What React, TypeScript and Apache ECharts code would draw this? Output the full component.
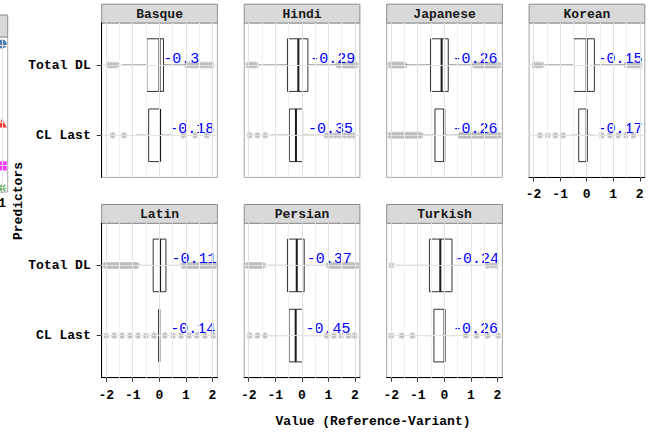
import React, { useEffect, useRef } from "react";
import * as echarts from "echarts";

// ---------------- data ----------------
const languages = ["Basque", "Hindi", "Japanese", "Korean", "Latin", "Persian", "Turkish"];
const predictors = ["Total DL", "CL Last"];
const xTicks = [-2, -1, 0, 1, 2];
const xMinorTicks = [-1.5, -0.5, 0.5, 1.5];

// [lower whisker, Q1, median, Q3, upper whisker]
const totalDLStats = [
  [-1.4, -0.47, 0.01, 0.16, 1.0],
  [-1.62, -0.54, -0.13, 0.23, 1.33],
  [-1.45, -0.52, -0.1, 0.15, 1.1],
  [-1.57, -0.49, 0.0, 0.29, 1.45],
  [-0.83, -0.23, 0.03, 0.25, 0.88],
  [-1.41, -0.54, -0.19, 0.09, 0.98],
  [-1.83, -0.56, -0.15, 0.29, 1.6],
];
const clLastStats = [
  [-0.88, -0.4, 0.03, 0.03, 0.47],
  [-1.16, -0.47, -0.22, 0.03, 0.73],
  [-0.86, -0.35, 0.0, 0.0, 0.53],
  [-0.59, -0.3, 0.0, 0.0, 0.28],
  [0, 0, 0, 0, 0],
  [-1.2, -0.48, -0.23, 0.03, 0.73],
  [-0.79, -0.39, 0.01, 0.01, 0.42],
];

// correlation labels and where they start (value units)
const totalDLLabels = ["-0.3", "-0.29", "-0.26", "-0.15", "-0.11", "-0.37", "-0.24"];
const clLastLabels = ["-0.18", "-0.35", "-0.26", "-0.17", "-0.14", "-0.45", "-0.26"];
const totalDLLabelX = [0.15, 0.32, 0.31, 0.41, 0.46, 0.19, 0.37];
const clLastLabelX = [0.38, 0.23, 0.31, 0.41, 0.41, 0.14, 0.33];

// outliers
const totalDLOutliers = [
  [-1.92, -1.82, -1.72, -1.6, 1.05, 1.14, 1.24, 1.33, 1.43, 1.52, 1.62, 1.71, 1.8, 1.9, 1.96],
  [-2.02, -1.95, -1.88, -1.81, -1.74, 1.38, 1.44, 1.51, 1.58, 1.65, 1.71, 1.78, 1.85, 1.91, 1.97, 2.04],
  [-2.04, -1.98, -1.92, -1.86, -1.8, -1.73, -1.67, -1.61, -1.55, -1.5,
    1.15, 1.21, 1.27, 1.33, 1.39, 1.45, 1.51, 1.57, 1.63, 1.69, 1.75, 1.81, 1.87, 1.93, 1.99, 2.05],
  [-1.97, -1.88, -1.79, -1.7, 1.5, 1.6, 1.7, 1.8, 1.9, 1.99],
  [-2.05, -1.99, -1.93, -1.87, -1.8, -1.74, -1.68, -1.62, -1.56, -1.5, -1.44, -1.38, -1.32, -1.26, -1.2,
    -1.14, -1.08, -1.02, -0.96, -0.9, -0.86,
    0.91, 0.97, 1.03, 1.09, 1.15, 1.21, 1.27, 1.33, 1.39, 1.45, 1.51, 1.57, 1.63, 1.69, 1.75, 1.81,
    1.87, 1.93, 1.99, 2.05, 2.1],
  [-2.05, -1.99, -1.93, -1.87, -1.81, -1.75, -1.69, -1.63, -1.57, -1.51, -1.46,
    1.01, 1.07, 1.13, 1.19, 1.25, 1.31, 1.37, 1.43, 1.49, 1.55, 1.61, 1.67, 1.73, 1.79, 1.85, 1.91,
    1.97, 2.03, 2.08],
  [-1.99, 1.64, 1.8, 1.95],
];
const clLastOutliers = [
  [-1.76, -1.33, 0.91, 1.35, 1.79],
  [-1.96, -1.67, -1.38, 0.93, 1.1, 1.27, 1.44, 1.61, 1.78, 1.95],
  [-2.04, -1.98, -1.92, -1.86, -1.8, -1.74, -1.68, -1.62, -1.56, -1.5, -1.44, -1.38, -1.32, -1.26,
    -1.2, -1.14, -1.08, -1.02, -0.96, -0.9,
    0.58, 0.64, 0.7, 0.76, 0.82, 0.88, 0.94, 1.0, 1.06, 1.12, 1.18, 1.24, 1.3, 1.36, 1.42, 1.48,
    1.54, 1.6, 1.66, 1.72, 1.78, 1.84, 1.9, 1.96, 2.02, 2.06],
  [-1.76, -1.47, -1.18, -0.88, 0.57, 0.88, 1.19, 1.48, 1.76],
  [-2.0, -1.7, -1.4, -1.1, -0.8, -0.5, -0.2, 0.21, 0.52, 0.82, 1.12, 1.42, 1.72, 2.03],
  [-1.96, -1.67, -1.39, 0.94, 1.21, 1.48, 1.76, 1.99],
  [-2.0, -1.6, -1.2, 0.81, 1.22, 1.63, 2.03],
];

// the neighbouring figure cut off at the left edge
const sliverX = [1, 1, 1, 1];
const sliverY = [0.955, 0.445, 0.168, 0.026];
const sliverSymbols = ["circle", "triangle", "rect", "path://M5,0L5,10M0,5L10,5M1.5,1.5L8.5,8.5M8.5,1.5L1.5,8.5"];
const sliverColors = ["#1f5c9e", "#ff0000", "#ff00ff", "#1a8a1a"];

// ---------------- layout / style ----------------
const FONT = '"Liberation Mono", "DejaVu Sans Mono", monospace';
const PANEL_LEFTS = [101.7, 244.2, 386.7, 529.1];
const PANEL_W = 115.7;
const ROW_TOPS = [23, 223.3];
const PANEL_H = 154.4;
const STRIP_H = 18.8;
const X_MIN = -2.17;
const X_MAX = 2.19;
const Y_MIN = 0.4;
const Y_MAX = 2.6;
const BOX_WIDTH = 0.75;
const ASTERISK = "path://M5,0L5,10M0,5L10,5M1.5,1.5L8.5,8.5M8.5,1.5L1.5,8.5";

function panelPos(i: number) {
  const row = i < 4 ? 0 : 1;
  const col = i < 4 ? i : i - 4;
  return { left: PANEL_LEFTS[col], top: ROW_TOPS[row], row, col };
}
const predictorY = (k: number) => predictors.length - k;

export default function App() {
  const ref = useRef<HTMLDivElement>(null);
  useEffect(() => {
    if (!ref.current) return;
    const chart = echarts.init(ref.current, null, { renderer: "svg" });

    const grids: any[] = [];
    const xAxes: any[] = [];
    const yAxes: any[] = [];
    const series: any[] = [];
    const graphics: any[] = [];

    languages.forEach((lang, i) => {
      const { left, top, row, col } = panelPos(i);
      const hasX = row === 1 || i === 3;
      const hasY = col === 0;
      grids.push({
        left, top, width: PANEL_W, height: PANEL_H,
        show: true, backgroundColor: "#ffffff", borderColor: "#a6a6a6", borderWidth: 1,
        containLabel: false, outerBoundsMode: "none",
      });
      xAxes.push({
        type: "value", gridIndex: i, min: X_MIN, max: X_MAX,
        axisLine: { show: hasX, onZero: false, lineStyle: { color: "#000", width: 1 } },
        axisTick: { show: hasX, customValues: xTicks, length: 4, lineStyle: { color: "#333" } },
        axisLabel: {
          show: hasX, customValues: xTicks, margin: 11, color: "#000",
          fontFamily: FONT, fontWeight: "bold", fontSize: 13,
        },
        splitLine: { show: false },
      });
      yAxes.push({
        type: "value", gridIndex: i, min: Y_MIN, max: Y_MAX,
        axisLine: { show: hasY, onZero: false, lineStyle: { color: "#000", width: 1 } },
        axisTick: { show: hasY, customValues: [1, 2], length: 5, lineStyle: { color: "#333" } },
        axisLabel: {
          show: hasY, customValues: [1, 2], margin: 11, color: "#000",
          fontFamily: FONT, fontWeight: "bold", fontSize: 13,
          formatter: (v: number) => predictors[predictors.length - Math.round(v)] || "",
        },
        splitLine: { show: false },
      });

      const outlierData: number[][] = [];
      totalDLOutliers[i].forEach((v) => outlierData.push([v, predictorY(0)]));
      clLastOutliers[i].forEach((v) => outlierData.push([v, predictorY(1)]));

      series.push({
        type: "scatter", xAxisIndex: i, yAxisIndex: i, z: 1, silent: true,
        data: outlierData, symbol: ASTERISK, symbolSize: 7,
        itemStyle: { color: "#bdbdbd", borderColor: "#bdbdbd", borderWidth: 1.2, opacity: 1 },
        markLine: {
          silent: true, symbol: ["none", "none"], label: { show: false }, animation: false,
          emphasis: { disabled: true },
          data: [
            ...xMinorTicks.map((v) => ({ xAxis: v, lineStyle: { color: "#f2f2f2", width: 1, type: "solid" } })),
            ...xTicks.map((v) => ({ xAxis: v, lineStyle: { color: "#e3e3e3", width: 1, type: "solid" } })),
            ...predictors.map((_, k) => ({ yAxis: predictorY(k), lineStyle: { color: "#e3e3e3", width: 1, type: "solid" } })),
          ],
        },
      });

      const labelsText = [totalDLLabels[i], clLastLabels[i]];
      series.push({
        type: "custom", xAxisIndex: i, yAxisIndex: i, z: 3, silent: true,
        data: [
          [predictorY(0), ...totalDLStats[i], totalDLLabelX[i]],
          [predictorY(1), ...clLastStats[i], clLastLabelX[i]],
        ],
        renderItem: (params: any, api: any) => {
          const y = api.value(0);
          const pLo = api.coord([api.value(1), y]);
          const pQ1 = api.coord([api.value(2), y]);
          const pMd = api.coord([api.value(3), y]);
          const pQ3 = api.coord([api.value(4), y]);
          const pHi = api.coord([api.value(5), y]);
          const pLb = api.coord([api.value(6), y]);
          const half = Math.abs(api.size([0, BOX_WIDTH])[1]) / 2;
          const cy = pLo[1];
          return {
            type: "group",
            children: [
              { type: "line", shape: { x1: pLo[0], y1: cy, x2: pQ1[0], y2: cy }, style: { stroke: "#4d4d4d", lineWidth: 1 } },
              { type: "line", shape: { x1: pQ3[0], y1: cy, x2: pHi[0], y2: cy }, style: { stroke: "#4d4d4d", lineWidth: 1 } },
              {
                type: "rect",
                shape: { x: pQ1[0], y: cy - half, width: pQ3[0] - pQ1[0], height: 2 * half },
                style: { fill: "#ffffff", stroke: "#333333", lineWidth: 1 },
              },
              { type: "line", shape: { x1: pMd[0], y1: cy - half, x2: pMd[0], y2: cy + half }, style: { stroke: "#1a1a1a", lineWidth: 2 } },
              {
                type: "text", x: pLb[0], y: cy - 6, z2: 10,
                style: {
                  text: labelsText[params.dataIndex], fill: "#0000ff", fontFamily: FONT, fontSize: 15,
                  align: "left", verticalAlign: "middle",
                },
              },
            ],
          };
        },
      });

      const stripTop = top - STRIP_H;
      graphics.push({
        type: "rect", shape: { x: left, y: stripTop, width: PANEL_W, height: STRIP_H },
        style: { fill: "#d9d9d9", stroke: "#8c8c8c", lineWidth: 1 }, silent: true,
      });
      graphics.push({
        type: "text", x: left + PANEL_W / 2, y: stripTop + STRIP_H / 2 + 0.5,
        style: { text: lang, fill: "#1a1a1a", fontFamily: FONT, fontWeight: "bold", fontSize: 13, align: "center", verticalAlign: "middle" },
        silent: true,
      });
    });

    // sliver of the neighbouring figure at the left edge
    const si = languages.length;
    grids.push({
      left: -60, top: 37, width: 67.7, height: 155, show: true, backgroundColor: "#fff",
      borderColor: "#a6a6a6", borderWidth: 1, containLabel: false, outerBoundsMode: "none",
    });
    xAxes.push({
      type: "value", gridIndex: si, min: 0, max: 1.089,
      axisLine: { show: false }, axisTick: { show: false },
      axisLabel: { show: true, customValues: [1], margin: 5, color: "#000", fontFamily: FONT, fontWeight: "bold", fontSize: 13 },
      splitLine: { show: false },
    });
    yAxes.push({ type: "value", gridIndex: si, min: 0, max: 1, show: false, splitLine: { show: false } });
    series.push({
      type: "scatter", xAxisIndex: si, yAxisIndex: si, silent: true, z: 2, clip: false,
      data: sliverX.map((x, k) => ({
        value: [x, sliverY[k]], symbol: sliverSymbols[k],
        symbolSize: 9,
        itemStyle: k === 3
          ? { color: sliverColors[k], borderColor: sliverColors[k], borderWidth: 1.3 }
          : { color: sliverColors[k] },
      })),
      markLine: {
        silent: true, symbol: ["none", "none"], label: { show: false }, animation: false,
        lineStyle: { color: "#e3e3e3", width: 1, type: "solid" },
        data: [{ xAxis: 1 }, ...sliverY.map((v) => ({ yAxis: v }))],
      },
    });
    graphics.push({
      type: "rect", shape: { x: -10, y: 15, width: 17.7, height: 22 },
      style: { fill: "#d9d9d9", stroke: "#8c8c8c", lineWidth: 1 }, silent: true,
    });

    graphics.push({
      type: "text", x: 18.5, y: 201, rotation: Math.PI / 2,
      style: { text: "Predictors", fill: "#000", fontFamily: FONT, fontWeight: "bold", fontSize: 13, align: "center", verticalAlign: "middle" },
      silent: true,
    });
    graphics.push({
      type: "text", x: 373, y: 421,
      style: { text: "Value (Reference-Variant)", fill: "#000", fontFamily: FONT, fontWeight: "bold", fontSize: 13, align: "center", verticalAlign: "middle" },
      silent: true,
    });

    chart.setOption({
      animation: false,
      backgroundColor: "#ffffff",
      grid: grids,
      xAxis: xAxes,
      yAxis: yAxes,
      series,
      graphic: { elements: graphics },
    });
    return () => chart.dispose();
  }, []);

  return <div ref={ref} style={{ position: "absolute", left: 0, top: 0, width: 658, height: 435 }} />;
}
